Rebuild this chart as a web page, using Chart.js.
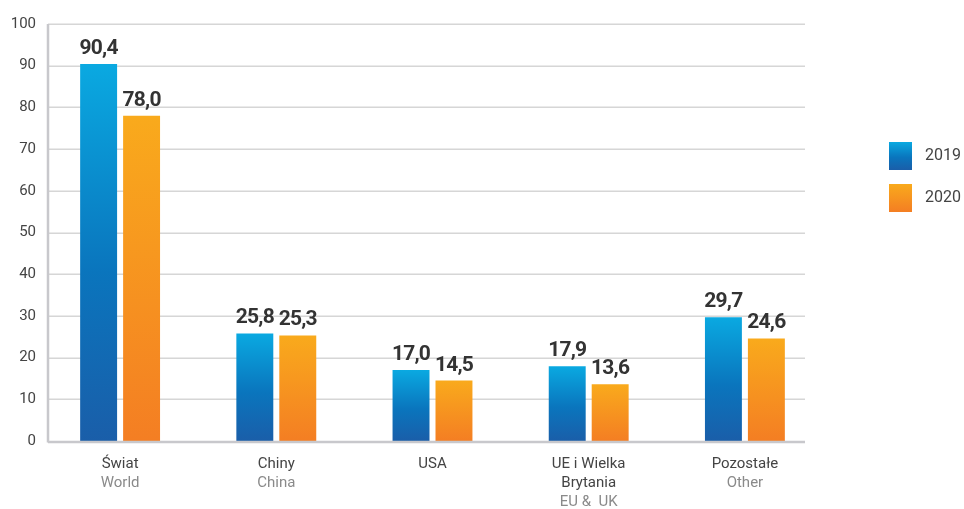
<!DOCTYPE html>
<html>
<head>
<meta charset="utf-8">
<script src="https://cdn.jsdelivr.net/npm/chart.js@4.4.1/dist/chart.umd.min.js"></script>
<style>
  html, body { margin: 0; padding: 0; background: #ffffff; }
  #wrap { width: 964px; height: 509px; }
</style>
</head>
<body>
<div id="wrap"><canvas id="c" width="964" height="509"></canvas></div>
<script>
// ---- Data ----
const categoriesPl = [['Świat'], ['Chiny'], ['USA'], ['UE i Wielka', 'Brytania'], ['Pozostałe']];
const categoriesEn = ['World', 'China', '', 'EU &  UK', 'Other'];
const seriesNames = ['2019', '2020'];
const values2019 = [90.4, 25.8, 17.0, 17.9, 29.7];
const values2020 = [78.0, 25.3, 14.5, 13.6, 24.6];
const yTickValues = [0, 10, 20, 30, 40, 50, 60, 70, 80, 90, 100];

// ---- Styles ----
const blueStops = [[0, '#0aa9e1'], [0.55, '#0a75bd'], [1, '#1a5ea9']];
const orangeStops = [[0, '#f9aa1c'], [1, '#f47e23']];

function makeGrad(ctx2d, y0, y1, stops) {
  const g = ctx2d.createLinearGradient(0, y0, 0, y1);
  stops.forEach(s => g.addColorStop(s[0], s[1]));
  return g;
}

function barFill(stops) {
  return function (ctx) {
    const chart = ctx.chart;
    if (!chart.chartArea || ctx.type !== 'data') return stops[0][1];
    const y = chart.scales.y;
    const top = y.getPixelForValue(ctx.raw);
    const bottom = y.getPixelForValue(0);
    return makeGrad(chart.ctx, top, bottom, stops);
  };
}

const fmt = v => v.toFixed(1).replace('.', ',');

const decorPlugin = {
  id: 'decor',
  beforeDatasetsDraw(chart) {
    const { ctx, chartArea, scales } = chart;
    const gl = chartArea.left + 6, gr = chartArea.right - 18;
    ctx.save();
    ctx.strokeStyle = '#d6d6d6';
    ctx.lineWidth = 1.5;
    yTickValues.forEach(v => {
      if (v === 0) return;
      const py = Math.round(scales.y.getPixelForValue(v)) + 0.25;
      ctx.beginPath(); ctx.moveTo(gl, py); ctx.lineTo(gr, py); ctx.stroke();
    });
    ctx.restore();
  },
  afterDatasetsDraw(chart) {
    const { ctx, chartArea, scales } = chart;
    const gl = chartArea.left + 6, gr = chartArea.right - 18;
    const yTop = scales.y.getPixelForValue(100);
    const yBase = scales.y.getPixelForValue(0);
    ctx.save();
    // axes
    ctx.strokeStyle = '#c8c8cc';
    ctx.lineWidth = 2.5;
    ctx.beginPath(); ctx.moveTo(gl, yTop); ctx.lineTo(gl, yBase + 1.5); ctx.stroke();
    ctx.beginPath(); ctx.moveTo(gl, yBase + 1); ctx.lineTo(gr, yBase + 1); ctx.stroke();

    // value labels
    ctx.font = 'bold 21px Roboto';
    if ('letterSpacing' in ctx) ctx.letterSpacing = '-0.8px';
    ctx.fillStyle = '#333333';
    ctx.textAlign = 'center';
    ctx.textBaseline = 'alphabetic';
    chart.data.datasets.forEach((ds, di) => {
      const meta = chart.getDatasetMeta(di);
      meta.data.forEach((bar, i) => {
        ctx.fillText(fmt(ds.data[i]), bar.x, bar.y - 10);
      });
    });
    if ('letterSpacing' in ctx) ctx.letterSpacing = '0px';

    // category labels
    ctx.textBaseline = 'middle';
    const lh = 19;
    categoriesPl.forEach((lines, i) => {
      const x = scales.x.getPixelForTick(i);
      let y = yBase + 23;
      ctx.font = '15px Roboto';
      ctx.fillStyle = '#444444';
      lines.forEach(t => { ctx.fillText(t, x, y); y += lh; });
      if (categoriesEn[i]) {
        ctx.fillStyle = '#8a8a8a';
        ctx.fillText(categoriesEn[i], x, y);
      }
    });

    // legend
    const lx = chartArea.right + 66;
    const stopsArr = [blueStops, orangeStops];
    seriesNames.forEach((name, k) => {
      const by = 142 + k * 42;
      ctx.fillStyle = makeGrad(ctx, by, by + 28, stopsArr[k]);
      ctx.fillRect(lx, by, 23, 28);
      ctx.fillStyle = '#444444';
      ctx.font = '16px Roboto';
      ctx.textAlign = 'left';
      ctx.fillText(name, lx + 36, by + 14);
    });
    ctx.restore();
  }
};

Chart.defaults.font.family = 'Roboto';

new Chart(document.getElementById('c'), {
  type: 'bar',
  data: {
    labels: categoriesPl.map(l => l.join(' ')),
    datasets: [
      { label: seriesNames[0], data: values2019, backgroundColor: barFill(blueStops), borderWidth: 0 },
      { label: seriesNames[1], data: values2020, backgroundColor: barFill(orangeStops), borderWidth: 0 }
    ]
  },
  options: {
    responsive: false,
    animation: false,
    events: [],
    layout: { padding: { top: 24, right: 141, left: 0, bottom: 0 } },
    datasets: { bar: { categoryPercentage: 0.55, barPercentage: 0.86 } },
    plugins: { legend: { display: false }, tooltip: { enabled: false } },
    scales: {
      x: {
        grid: { display: false },
        border: { display: false },
        ticks: { display: false },
        afterFit(s) { s.height = 68; }
      },
      y: {
        min: 0, max: 100,
        grid: { display: false, drawTicks: false },
        border: { display: false },
        ticks: {
          stepSize: 10,
          padding: 6,
          color: '#444444',
          font: { size: 15, family: 'Roboto' }
        },
        afterFit(s) { s.width = 42; }
      }
    }
  },
  plugins: [decorPlugin]
});
</script>
</body>
</html>
